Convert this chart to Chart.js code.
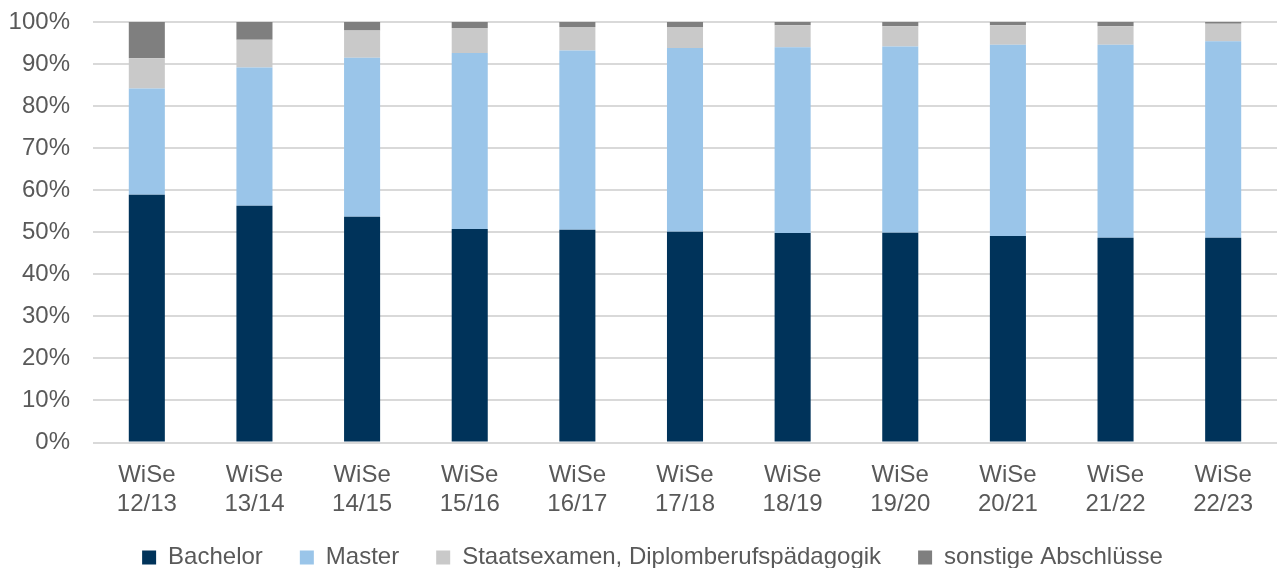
<!DOCTYPE html>
<html>
<head>
<meta charset="utf-8">
<script src="https://cdn.jsdelivr.net/npm/chart.js@4/dist/chart.umd.min.js"></script>
<style>
  html, body { margin: 0; padding: 0; background: #ffffff; }
  #wrap { width: 1277px; height: 568px; position: relative; }
</style>
</head>
<body>
<div id="wrap"><canvas id="chart"></canvas></div>
<script>
// Semester categories (two-line labels)
const semesters = [
  ['WiSe', '12/13'], ['WiSe', '13/14'], ['WiSe', '14/15'], ['WiSe', '15/16'],
  ['WiSe', '16/17'], ['WiSe', '17/18'], ['WiSe', '18/19'], ['WiSe', '19/20'],
  ['WiSe', '20/21'], ['WiSe', '21/22'], ['WiSe', '22/23']
];

// Share of degrees per semester, in percent
const bachelor  = [58.9, 56.3, 53.7, 50.8, 50.6, 50.1, 49.8, 49.9, 49.1, 48.7, 48.7];
const master    = [25.3, 32.9, 37.8, 41.8, 42.6, 43.7, 44.2, 44.3, 45.5, 45.9, 46.7];
const staatsex  = [7.2, 6.6, 6.5, 6.0, 5.6, 5.0, 5.2, 4.8, 4.6, 4.4, 4.2];
const sonstige  = [8.6, 4.2, 2.0, 1.4, 1.2, 1.2, 0.8, 1.0, 0.8, 1.0, 0.4];

// Y-axis tick values
const yTicks = [0, 10, 20, 30, 40, 50, 60, 70, 80, 90, 100];

const FONT = "'Liberation Sans', Arial, Helvetica, sans-serif";
const TXT = '#595959';

const ds = (label, data, color) => ({
  label, data,
  backgroundColor: color,
  borderWidth: 0,
  barPercentage: 0.335,
  categoryPercentage: 1.0
});

// tick labels may spill outside their axis box
const noLabelClip = (axis) => { axis._computeLabelArea = () => undefined; };

new Chart(document.getElementById('chart'), {
  type: 'bar',
  data: {
    labels: semesters,
    datasets: [
      ds('Bachelor', bachelor, '#00335A'),
      ds('Master', master, '#9AC5E9'),
      ds('Staatsexamen, Diplomberufspädagogik', staatsex, '#C9C9C9'),
      ds('sonstige Abschlüsse', sonstige, '#7F7F7F')
    ]
  },
  options: {
    responsive: true,
    maintainAspectRatio: false,
    animation: false,
    layout: { padding: { top: 22, right: 0, bottom: 0, left: 28 } },
    plugins: {
      tooltip: { enabled: false },
      legend: {
        position: 'bottom',
        maxHeight: 59.5,
        labels: {
          font: { family: FONT, size: 24 },
          color: TXT,
          boxWidth: 14,
          boxHeight: 14,
          padding: 37
        }
      }
    },
    scales: {
      x: {
        stacked: true,
        afterFit: (axis) => { axis.height = 66; noLabelClip(axis); },
        grid: { display: false, drawTicks: false },
        border: { display: false },
        ticks: {
          color: TXT,
          font: { family: FONT, size: 24, lineHeight: 1.21 },
          padding: 18.5,
          maxRotation: 0,
          autoSkip: false
        }
      },
      y: {
        stacked: true,
        min: 0,
        max: 100,
        afterBuildTicks: (axis) => { axis.ticks = yTicks.map(v => ({ value: v })); },
        afterFit: (axis) => {
          axis.width = 65;
          axis.paddingTop = 0;
          axis.paddingBottom = 0;
          noLabelClip(axis);
        },
        grid: { color: '#D9D9D9', lineWidth: 2, drawTicks: false },
        border: { display: false },
        ticks: {
          color: TXT,
          font: { family: FONT, size: 24 },
          padding: 23,
          callback: (v) => v + '%'
        }
      }
    }
  }
});
</script>
</body>
</html>
